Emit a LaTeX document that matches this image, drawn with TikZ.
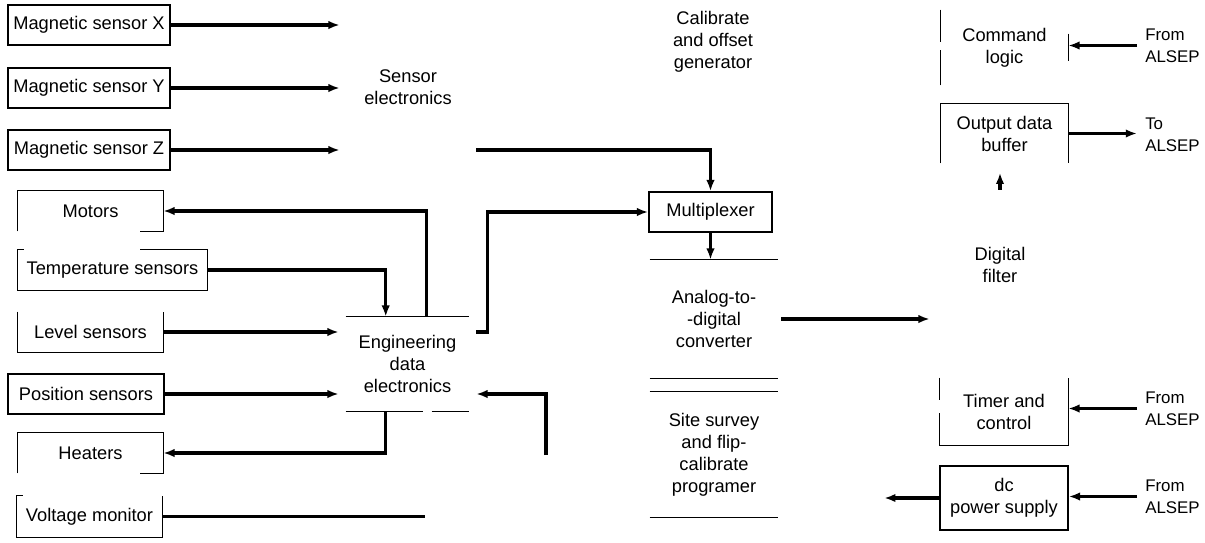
\documentclass[tikz,border=0pt]{standalone}
\usepackage{fontspec}
\setmainfont{Liberation Sans}
\usetikzlibrary{arrows.meta}

\begin{document}
\begin{tikzpicture}[x=0.025cm,y=-0.025cm]
\tikzstyle{every node}+=[inner sep=0pt, font=\fontsize{13}{15.6}\selectfont, align=center]
\tikzstyle{box}=[draw, line width=1.1pt]
\tikzstyle{wire}=[line width=1.1pt]
\tikzstyle{link}=[line width=2.5pt]
\tikzstyle{flow}=[line width=2.5pt, -{Latex[length=8pt,width=6pt]}]
\tikzstyle{alsep}=[anchor=west, align=left, inner xsep=0.2cm, font=\fontsize{12}{15.6}\selectfont]
\useasboundingbox (0,0) rectangle (1205,542);
\node [box, minimum width=4.05cm, minimum height=1cm] (mx) at (89,25) {Magnetic sensor X};
\node [box, minimum width=4.05cm, minimum height=1cm] (my) at (89,88) {Magnetic sensor Y};
\node [box, minimum width=4.05cm, minimum height=1cm] (mz) at (89,150) {Magnetic sensor Z};
\node [minimum width=3.625cm, minimum height=1cm] (mot) at (90.5,211) {Motors};
\node [minimum width=4.725cm, minimum height=1cm] (tmp) at (112.5,270) {Temperature sensors};
\node [minimum width=3.625cm, minimum height=1cm] (lev) at (90.5,332) {Level sensors};
\node [box, minimum width=3.9cm, minimum height=1cm] (pos) at (86,394) {Position sensors};
\node [minimum width=3.625cm, minimum height=1cm] (hea) at (90.5,453) {Heaters};
\node [minimum width=3.625cm, minimum height=1.025cm] (vol) at (89.5,516.5) {Voltage monitor};
\node [minimum width=3.4cm] (sens) at (408,87) {Sensor\\electronics};
\node [minimum width=3.425cm, minimum height=2.35cm] (eng) at (407.5,364) {Engineering\\data\\electronics};
\node (cal) at (713,42) {Calibrate\\and offset\\generator};
\node [box, minimum width=3.075cm, minimum height=1cm] (mux) at (710.5,212) {Multiplexer};
\node [minimum width=3.2cm, minimum height=2.95cm] (adc) at (714,319) {Analog-to-\\-digital\\converter};
\node [minimum width=3.2cm, minimum height=3.125cm] (sit) at (714,454.5) {Site survey\\and flip-\\calibrate\\programer};
\node [minimum width=3.175cm, minimum height=1.875cm] (cmd) at (1004.5,47.5) {Command\\logic};
\node [minimum width=3.175cm, minimum height=1.475cm] (buf) at (1004.5,133.5) {Output data\\buffer};
\node [minimum width=3.5cm, minimum height=3.75cm] (flt) at (1000,265) {Digital\\filter};
\node [minimum width=3.2cm, minimum height=1.675cm] (tim) at (1004,411.5) {Timer and\\control};
\node [box, minimum width=3.2cm, minimum height=1.6cm] (dcp) at (1004,498) {dc\\power supply};
\node [alsep] (fa1) at (1137,45.5) {From\\ALSEP};
\node [alsep] (ta) at (1137,134.5) {To\\ALSEP};
\node [alsep] (fa2) at (1137,408.5) {From\\ALSEP};
\node [alsep] (fa3) at (1137,496.5) {From\\ALSEP};
\draw [wire] (mot.south west) -- (mot.north west) -- (mot.north east) -- (mot.south east) -- ++(-23,0);
\draw [wire] (tmp.north east) ++(-67,0) -- (tmp.north east) -- (tmp.south east) -- (tmp.south west) -- (tmp.north west) -- ++(6,0);
\draw [wire] (lev.north west) -- (lev.south west) -- (lev.south east) -- (lev.north east);
\draw [wire] (hea.south west) -- (hea.north west) -- (hea.north east) -- (hea.south east) -- ++(-23,0);
\draw [wire] (vol.north west) ++(6,0) -- (vol.north west) -- (vol.south west) -- (vol.south east) -- (vol.north east);
\draw [wire] (eng.north west) ++(7,0) -- ++(123,0);
\draw [wire] (eng.south west) ++(7,0) -- ++(77,0) ++(9,0) -- ++(37,0);
\draw [wire] (adc.north west) -- (adc.north east);
\draw [wire] (adc.south west) -- (adc.south east);
\draw [wire] (sit.north west) -- (sit.north east);
\draw [wire] (sit.south west) -- (sit.south east);
\draw [wire] (cmd.north west) -- ++(0,32);
\draw [wire] (cmd.south west) -- ++(0,-35);
\draw [wire] (cmd.east) ++(0,-14) -- ++(0,27);
\draw [wire] (buf.south west) -- (buf.north west) -- (buf.north east) -- (buf.south east);
\draw [wire] (tim.north west) -- ++(0,22);
\draw [wire] (tim.south west) ++(0,-32) -- (tim.south west) -- (tim.south east) -- (tim.north east);
\draw [flow] (mx.east) -- (mx.east -| sens.west);
\draw [flow] (my.east) -- (my.east -| sens.west);
\draw [flow] (mz.east) -- (mz.east -| sens.west);
\draw [flow] ([xshift=2.2cm]eng.north west) |- (mot.east);
\draw [flow] (tmp.east) -| ([xshift=1.175cm]eng.north west);
\draw [flow] (lev.east) -- (lev.east -| eng.west);
\draw [flow] (pos.east) -- (pos.east -| eng.west);
\draw [flow] ([xshift=1.175cm]eng.south west) |- (hea.east);
\draw [link] (vol.east) -- ++(263,0);
\coordinate (feed) at (546,455);
\draw [flow] (feed) |- (pos.east -| eng.east);
\draw [flow] (lev.east -| eng.east) -- ++(11,0) |- (mux.west);
\draw [flow] (mz.east -| sens.east) -| (mux.north);
\draw [flow] (mux.south) -- (mux.south |- adc.north);
\draw [flow] ([xshift=0.075cm]adc.east) -- (adc.east -| flt.west);
\draw [flow] (flt.north) -- ++(0,-17);
\draw [flow] (fa1.west) -- (fa1.west -| cmd.east);
\draw [flow] (buf.east) -- (buf.east -| ta.west);
\draw [flow] (fa2.west) -- (fa2.west -| tim.east);
\draw [flow] (fa3.west) -- (fa3.west -| dcp.east);
\draw [flow] (dcp.west) -- ++(-55,0);
\end{tikzpicture}
\end{document}
